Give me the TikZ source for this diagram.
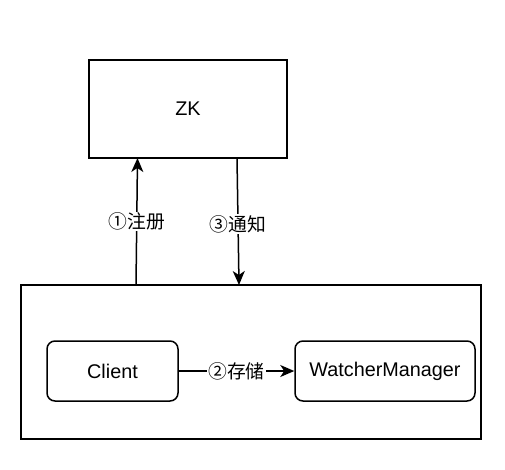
\documentclass[tikz,border=0pt]{standalone}
\usepackage{fontspec}
\setmainfont{Liberation Sans}
\newfontfamily\cjk{Noto Sans CJK SC}
\usetikzlibrary{arrows.meta}
\begin{document}
\begin{tikzpicture}[x=1pt,y=-1pt,
  box/.style={draw=black,line width=1.5pt,fill=white,inner sep=0pt,font=\fontsize{19.8}{23}\selectfont},
  rbox/.style={box,rounded corners=8pt},
  conn/.style={line width=1.5pt,-{Stealth[length=14pt,width=12pt,inset=4pt]}},
  lbl/.style={fill=white,inner sep=1pt,font=\cjk\fontsize{18.8}{22}\selectfont}]
\useasboundingbox (0,0) rectangle (505,469);
\node[box,minimum width=198pt,minimum height=98pt] (zk) at (188,109) {ZK};
\node[box,minimum width=460pt,minimum height=154pt] (outer) at (251,362) {};
\node[rbox,minimum width=131pt,minimum height=60pt] (client) at (112.5,371) {Client};
\node[rbox,minimum width=180pt,minimum height=60pt] (wm) at (385,371) {WatcherManager};
\coordinate (a1s) at (136,285);
\coordinate (a1e) at (137.5,158);
\coordinate (a3s) at (237,158);
\coordinate (a3e) at (239,285);
\draw[conn] (a1s) -- node[lbl,pos=0.5] {①注册} (a1e);
\draw[conn] (a3s) -- node[lbl,pos=0.52] {③通知} (a3e);
\draw[conn] (client.east) -- node[lbl,pos=0.5] {②存储} (wm.west);
\end{tikzpicture}
\end{document}
